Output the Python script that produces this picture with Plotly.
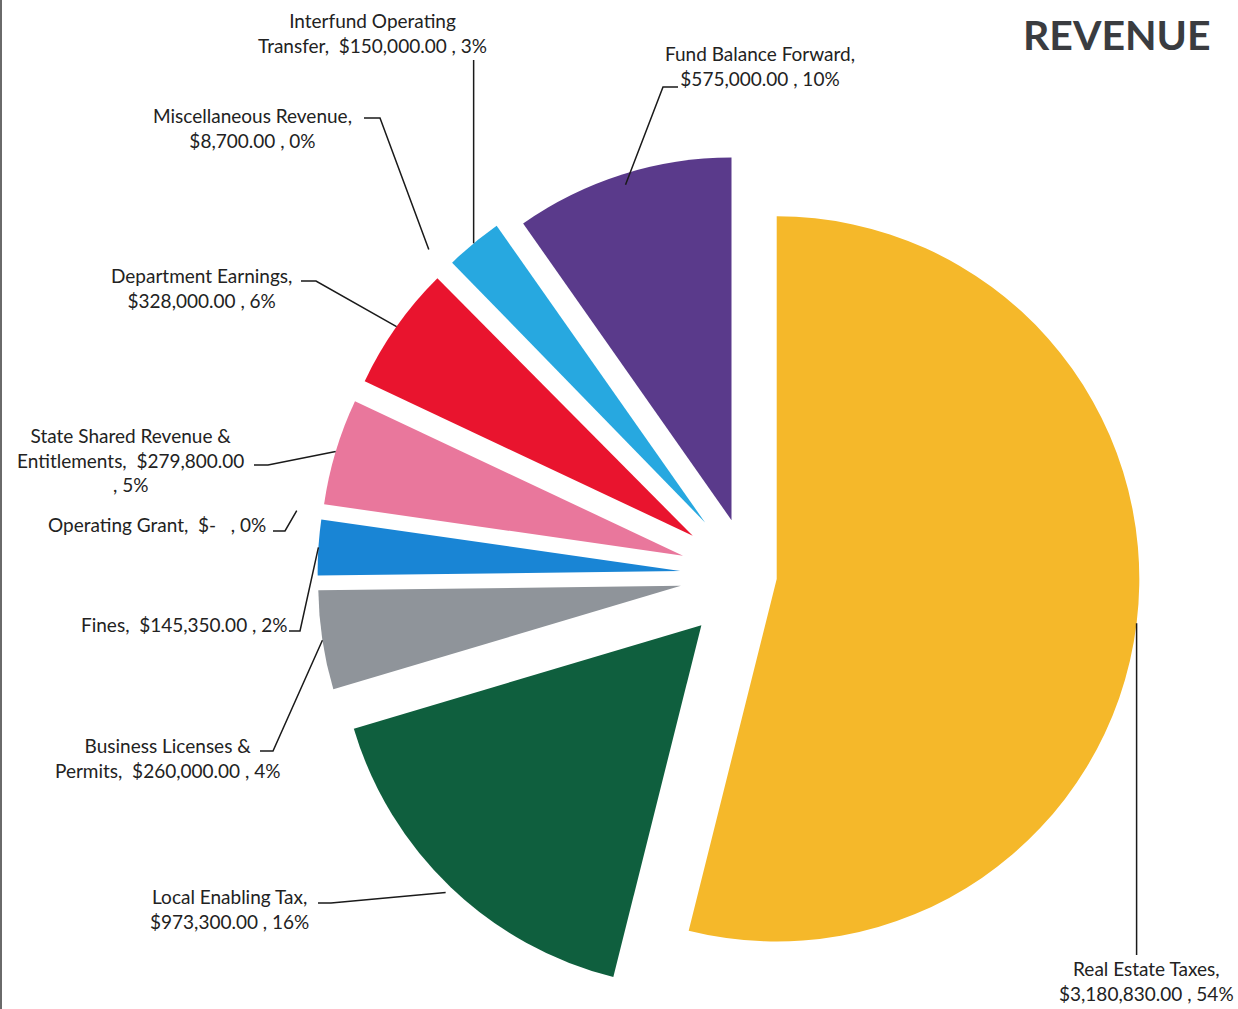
import math
import plotly.graph_objects as go

# ---------------- data ----------------
categories = [
    "Real Estate Taxes", "Local Enabling Tax", "Business Licenses & Permits", "Fines",
    "Operating Grant", "State Shared Revenue & Entitlements", "Department Earnings",
    "Miscellaneous Revenue", "Interfund Operating Transfer", "Fund Balance Forward",
]
values = [3180830.00, 973300.00, 260000.00, 145350.00, 0.00,
          279800.00, 328000.00, 8700.00, 150000.00, 575000.00]
pct_labels = ["54%", "16%", "4%", "2%", "0%", "5%", "6%", "0%", "3%", "10%"]
label_texts = [
    "Real Estate Taxes,<br>$3,180,830.00 , 54%",
    "Local Enabling Tax,<br>$973,300.00 , 16%",
    "Business Licenses &<br>Permits,  $260,000.00 , 4%",
    "Fines,  $145,350.00 , 2%",
    "Operating Grant,  $-   , 0%",
    "State Shared Revenue &<br>Entitlements,  $279,800.00<br>, 5%",
    "Department Earnings,<br>$328,000.00 , 6%",
    "Miscellaneous Revenue,<br>$8,700.00 , 0%",
    "Interfund Operating<br>Transfer,  $150,000.00 , 3%",
    "Fund Balance Forward,<br>$575,000.00 , 10%",
]

# ---------------- styles / layout ----------------
colors = ["#F5B82A", "#0F5F3E", "#8F949A", "#1985D5", "#FFFFFF",
          "#E9779C", "#E9142E", "#FFFFFF", "#27A8E0", "#5A3A8B"]
pulls = [0.077, 0.19, 0.19, 0.19, 0.19, 0.19, 0.19, 0.19, 0.19, 0.16]

W, H = 1238, 1009
dom_x = [317.5 / W, 1180.5 / W]
dom_y = [2 / H, 1 - 144 / H]

# label text block centers (pixels) and leader-line elbow points (pixels)
label_pos = [
    (1146, 981), (229, 909), (167, 758), (184, 624), (157, 524),
    (130, 460), (201, 288), (252, 128), (372, 33), (760, 66),
]
elbows = [
    [(None, 955)],                       # vertical line, x follows endpoint
    [(318, 903), (331, 903)],
    [(260, 751), (273, 751)],
    [(289, 631), (300, 631)],
    [(273, 531), (285, 531)],
    [(254, 465), (268, 465)],
    [(301, 281), (316, 281)],
    [(364, 118), (380, 118)],
    [(None, 60)],
    [(678, 87), (663, 87)],
]
line_reach = [1.0, 1.02, 1.0, 1.0, 1.07, 1.0, 1.0, 1.07, 1.0, 0.97]

FONT = "Lato"

fig = go.Figure(go.Pie(
    labels=categories, values=values, sort=False, direction="clockwise",
    rotation=0, pull=pulls, marker=dict(colors=colors, line=dict(width=0)),
    textinfo="none", hoverinfo="label+value+percent", showlegend=False,
    domain=dict(x=dom_x, y=dom_y),
))

# pie geometry as plotly computes it
wpx = W * (dom_x[1] - dom_x[0])
hpx = H * (dom_y[1] - dom_y[0])
r = min(wpx, hpx) / 2 / (1 + max(pulls))
cx = W * (dom_x[0] + dom_x[1]) / 2
cy = H * (1 - (dom_y[0] + dom_y[1]) / 2)
total = sum(values)

def to_paper(x, y):
    return x / W, 1 - y / H

shapes = []
annotations = []
cum = 0.0
for i, v in enumerate(values):
    mid = (cum + v / 2) / total * 2 * math.pi
    cum += v
    dx, dy = math.sin(mid), -math.cos(mid)
    ox = cx + (pulls[i] + line_reach[i]) * r * dx
    oy = cy + (pulls[i] + line_reach[i]) * r * dy
    pts = []
    for (ex, ey) in elbows[i]:
        pts.append((ox if ex is None else ex, ey))
    pts.append((ox, oy))
    path = ""
    for k, (px, py) in enumerate(pts):
        qx, qy = to_paper(px, py)
        path += ("M" if k == 0 else " L") + f" {qx:.5f},{qy:.5f}"
    shapes.append(dict(type="path", path=path, xref="paper", yref="paper",
                       line=dict(color="#1a1a1a", width=1.5)))
    lx, ly = to_paper(*label_pos[i])
    annotations.append(dict(
        text=label_texts[i], x=lx, y=ly, xref="paper", yref="paper",
        xanchor="center", yanchor="middle", align="center", showarrow=False,
        font=dict(family=FONT, size=19, color="#222222"),
    ))

annotations.append(dict(
    text="<b>REVENUE</b>", x=1213 / W, y=1 - 34 / H, xref="paper", yref="paper",
    xanchor="right", yanchor="middle", showarrow=False,
    font=dict(family=FONT, size=41, color="#3A3C40"),
))

shapes.append(dict(type="line", xref="paper", yref="paper", x0=1 / W, x1=1 / W,
                   y0=0, y1=1, line=dict(color="#6a6a6a", width=2)))

fig.update_layout(
    width=W, height=H, margin=dict(l=0, r=0, t=0, b=0),
    paper_bgcolor="white", plot_bgcolor="white",
    shapes=shapes, annotations=annotations,
)

fig.write_html("out.html")
